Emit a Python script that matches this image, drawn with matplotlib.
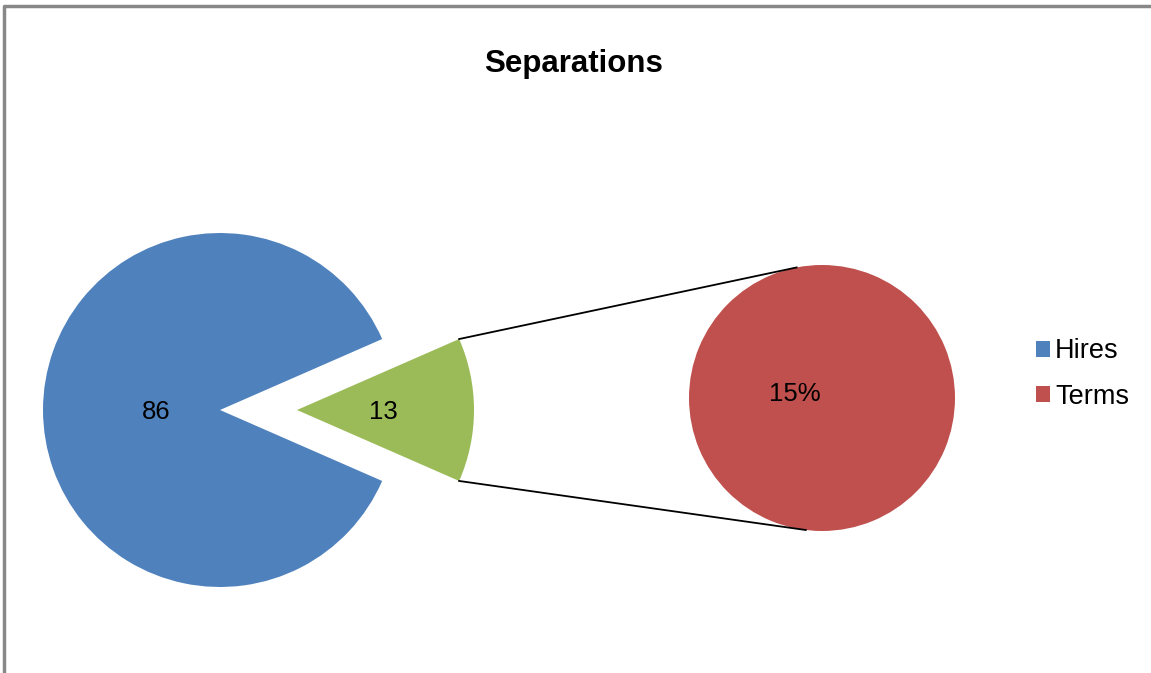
import numpy as np
import matplotlib.pyplot as plt

plt.rcParams['font.family'] = ['Liberation Sans', 'DejaVu Sans']

# data
labels = ['Hires', 'Terms']
values = [86, 13]
colors = ['#4f81bd', '#9bbb59']
term_color = '#c0504d'
term_pct = values[1] / values[0]

W, H = 1151, 673
fig = plt.figure(figsize=(W / 100, H / 100), dpi=100)
ax = fig.add_axes([0, 0, 1, 1])
ax.set_xlim(0, W)
ax.set_ylim(0, H)
ax.set_aspect('equal')
ax.axis('off')

# frame border (left and top)
ax.plot([4, 4, W], [0, H - 6, H - 6], color='#888888', lw=2.5, solid_capstyle='butt')

# main pie: small slice centred on 0 deg and pulled out
span = values[1] / sum(values) * 360
wedges, _ = ax.pie([values[1], values[0]], colors=[colors[1], colors[0]],
                   startangle=-span / 2, radius=177, center=(220, H - 410),
                   explode=[77, 0], frame=True)

# labels inside main pie
for w, val, dist in zip(wedges, [values[1], values[0]], [0.49, 0.36]):
    th = np.deg2rad((w.theta1 + w.theta2) / 2)
    cx, cy = w.center
    ax.text(cx + dist * w.r * np.cos(th), cy + dist * w.r * np.sin(th) - 2, str(val),
            ha='center', va='center', fontsize=18.5)

# secondary pie (100% of the small slice)
rc = (822, H - 398)
rr = 133
w2, _ = ax.pie([values[1]], colors=[term_color], radius=rr, center=rc, frame=True)
ax.text(rc[0] - 27, rc[1] + 4, f'{term_pct:.0%}', ha='center', va='center', fontsize=18.5)

# connector lines
g = wedges[0]
gx, gy = g.center
for a_small, a_big in [(g.theta2, 101), (g.theta1, -97)]:
    x0 = gx + g.r * np.cos(np.deg2rad(a_small))
    y0 = gy + g.r * np.sin(np.deg2rad(a_small))
    x1 = rc[0] + rr * np.cos(np.deg2rad(a_big))
    y1 = rc[1] + rr * np.sin(np.deg2rad(a_big))
    ax.plot([x0, x1], [y0, y1], color='black', lw=1.3)

ax.set_xlim(0, W)
ax.set_ylim(0, H)
ax.axis('off')

fig.text(574 / W, 1 - 64 / H, 'Separations', ha='center', va='center',
         fontsize=22.5, fontweight='bold')

leg = ax.legend([wedges[1], w2[0]], labels, loc='center left',
                bbox_to_anchor=(1022 / W, 1 - 374 / H), frameon=False,
                fontsize=19.5, handlelength=0.52, handleheight=0.52,
                handletextpad=0.2, labelspacing=0.72, borderpad=0)

fig.savefig('out.png', dpi=100)
